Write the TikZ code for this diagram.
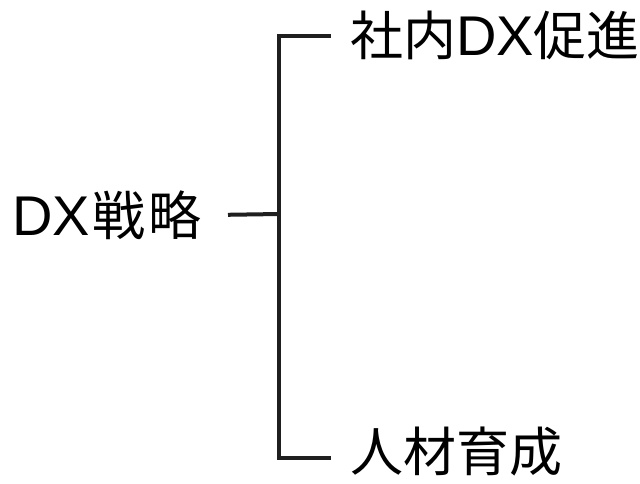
\documentclass[tikz,border=0pt]{standalone}
\usepackage{fontspec}
\setmainfont{Noto Sans CJK JP}
\newfontfamily\latinf{Liberation Sans}
\newcommand{\lt}[1]{{\latinf\fontsize{56}{56}\selectfont #1}}
\begin{document}
\begin{tikzpicture}[x=1pt,y=-1pt,
  lbl/.style={inner sep=0pt,font=\fontsize{53}{53}\selectfont,text=black},
  conn/.style={line width=4pt,black!88}]
\useasboundingbox (0,0) rectangle (640,483);
\node[lbl,anchor=base west] (root) at (12,235) {\lt{DX}\hspace{3pt}戦\hspace{3pt}略};
\node[lbl,anchor=base west] (a) at (350,55) {社内\lt{DX}促進};
\node[lbl,anchor=base west] (b) at (350,471) {人材育成};
\coordinate (j) at (279,214);
\coordinate (ja) at (279,36);
\coordinate (jb) at (279,458);
\coordinate (ra) at (331,36);
\coordinate (rb) at (331,458);
\draw[conn] (root.east -| 228,0) -- (j);
\draw[conn] (ra) -- (ja) -- (jb) -- (rb);
\end{tikzpicture}
\end{document}
